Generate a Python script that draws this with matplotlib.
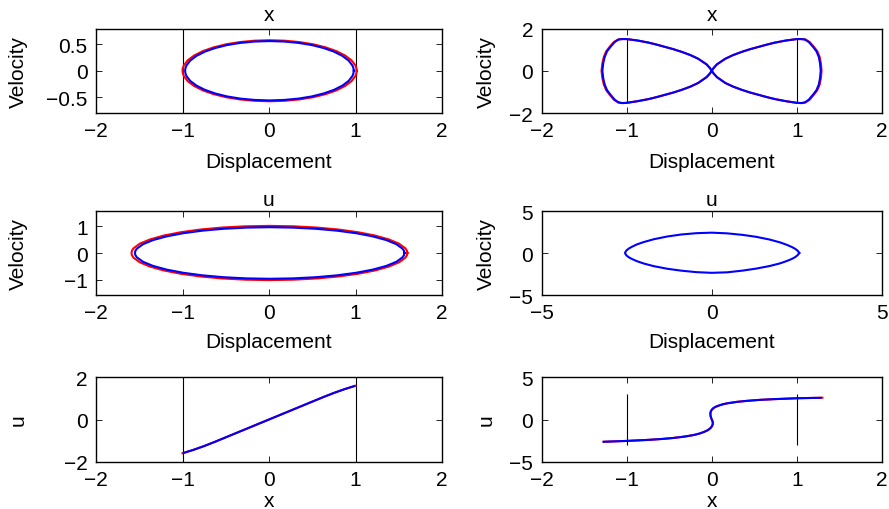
import matplotlib
matplotlib.use("Agg")
import matplotlib.pyplot as plt

plt.rcParams['font.family'] = ['Liberation Sans', 'DejaVu Sans']
plt.rcParams['font.size'] = 15

## Data ##

# panel (1,1): phase plane of x, red and blue closed orbits
x1_red_disp = [1.014, 1.010, 0.999, 0.953, 0.879, 0.778, 0.654, 0.511, 0.351, 0.182, 0.007,
               -0.168, -0.337, -0.497, -0.640, -0.764, -0.865, -0.939, -0.985, -0.996, -1.000,
               -0.996, -0.985, -0.939, -0.865, -0.764, -0.640, -0.497, -0.337, -0.168, 0.007,
               0.182, 0.351, 0.511, 0.654, 0.778, 0.879, 0.953, 0.999, 1.010, 1.014]
x1_red_vel = [0.0, 0.050, 0.100, 0.198, 0.289, 0.372, 0.443, 0.501, 0.543, 0.569, 0.578,
              0.569, 0.543, 0.501, 0.443, 0.372, 0.289, 0.198, 0.100, 0.050, 0.0,
              -0.050, -0.100, -0.198, -0.289, -0.372, -0.443, -0.501, -0.543, -0.569, -0.578,
              -0.569, -0.543, -0.501, -0.443, -0.372, -0.289, -0.198, -0.100, -0.050, 0.0]
x1_blue_disp = [0.980, 0.976, 0.965, 0.921, 0.849, 0.752, 0.632, 0.493, 0.338, 0.174, 0.005,
                -0.164, -0.328, -0.483, -0.622, -0.742, -0.839, -0.911, -0.955, -0.966, -0.970,
                -0.966, -0.955, -0.911, -0.839, -0.742, -0.622, -0.483, -0.328, -0.164, 0.005,
                0.174, 0.338, 0.493, 0.632, 0.752, 0.849, 0.921, 0.965, 0.976, 0.980]
x1_blue_vel = [0.0, 0.049, 0.098, 0.192, 0.281, 0.361, 0.430, 0.487, 0.528, 0.553, 0.562,
               0.553, 0.528, 0.487, 0.430, 0.361, 0.281, 0.192, 0.098, 0.049, 0.0,
               -0.049, -0.098, -0.192, -0.281, -0.361, -0.430, -0.487, -0.528, -0.553, -0.562,
               -0.553, -0.528, -0.487, -0.430, -0.361, -0.281, -0.192, -0.098, -0.049, 0.0]

# panel (1,2): figure-eight orbit of x
x2_blue_disp = [0.0, 0.02, 0.06, 0.16, 0.25, 0.35, 0.45, 0.55, 0.65, 0.74, 0.87, 1.0, 1.05, 1.094, 1.14, 1.19, 1.23, 1.258, 1.272, 1.28,
                1.272, 1.258, 1.23, 1.19, 1.14, 1.094, 1.05, 1.0, 0.87, 0.74, 0.65, 0.55, 0.45, 0.35, 0.25, 0.16, 0.06, 0.02, 0.0,
                -0.02, -0.06, -0.16, -0.25, -0.35, -0.45, -0.55, -0.65, -0.74, -0.87, -1.0, -1.05, -1.094, -1.14, -1.19, -1.23, -1.258, -1.275, -1.285,
                -1.275, -1.258, -1.23, -1.19, -1.14, -1.094, -1.05, -1.0, -0.87, -0.74, -0.65, -0.55, -0.45, -0.35, -0.25, -0.16, -0.06, -0.02, 0.0]
x2_blue_vel = [0.0, 0.12, 0.30, 0.57, 0.74, 0.89, 1.02, 1.13, 1.24, 1.33, 1.43, 1.50, 1.50, 1.48, 1.36, 1.13, 0.92, 0.65, 0.35, 0.0,
               -0.35, -0.65, -0.92, -1.13, -1.37, -1.50, -1.53, -1.52, -1.44, -1.34, -1.25, -1.14, -1.03, -0.90, -0.75, -0.58, -0.30, -0.12, 0.0,
               0.12, 0.30, 0.57, 0.74, 0.89, 1.02, 1.13, 1.24, 1.33, 1.43, 1.50, 1.50, 1.48, 1.36, 1.13, 0.92, 0.65, 0.35, 0.0,
               -0.35, -0.65, -0.92, -1.13, -1.37, -1.50, -1.53, -1.52, -1.44, -1.34, -1.25, -1.14, -1.03, -0.90, -0.75, -0.58, -0.30, -0.12, 0.0]
x2_red_disp = [0.0, 0.02, 0.06, 0.16, 0.25, 0.35, 0.45, 0.55, 0.65, 0.74, 0.87, 1.0, 1.055, 1.10, 1.15, 1.20, 1.24, 1.268, 1.282, 1.29,
               1.282, 1.268, 1.24, 1.20, 1.15, 1.10, 1.055, 1.0, 0.87, 0.74, 0.65, 0.55, 0.45, 0.35, 0.25, 0.16, 0.06, 0.02, 0.0,
               -0.02, -0.06, -0.16, -0.25, -0.35, -0.45, -0.55, -0.65, -0.74, -0.87, -1.0, -1.055, -1.10, -1.15, -1.20, -1.24, -1.268, -1.285, -1.295,
               -1.285, -1.268, -1.24, -1.20, -1.15, -1.10, -1.055, -1.0, -0.87, -0.74, -0.65, -0.55, -0.45, -0.35, -0.25, -0.16, -0.06, -0.02, 0.0]
x2_red_vel = x2_blue_vel

# panel (2,1): phase plane of u
u1_red_disp = [1.600, 1.594, 1.576, 1.504, 1.386, 1.227, 1.030, 0.803, 0.550, 0.282, 0.005,
               -0.272, -0.540, -0.793, -1.020, -1.217, -1.376, -1.494, -1.566, -1.584, -1.590,
               -1.584, -1.566, -1.494, -1.376, -1.217, -1.020, -0.793, -0.540, -0.272, 0.005,
               0.282, 0.550, 0.803, 1.030, 1.227, 1.386, 1.504, 1.576, 1.594, 1.600]
u1_red_vel = [0.0, 0.089, 0.177, 0.349, 0.510, 0.656, 0.781, 0.883, 0.958, 1.004, 1.020,
              1.004, 0.958, 0.883, 0.781, 0.656, 0.510, 0.349, 0.177, 0.089, 0.0,
              -0.089, -0.177, -0.349, -0.510, -0.656, -0.781, -0.883, -0.958, -1.004, -1.020,
              -1.004, -0.958, -0.883, -0.781, -0.656, -0.510, -0.349, -0.177, -0.089, 0.0]
u1_blue_disp = [1.566, 1.560, 1.542, 1.472, 1.357, 1.201, 1.009, 0.787, 0.541, 0.278, 0.008,
                -0.262, -0.525, -0.771, -0.993, -1.185, -1.341, -1.456, -1.526, -1.544, -1.550,
                -1.544, -1.526, -1.456, -1.341, -1.185, -0.993, -0.771, -0.525, -0.262, 0.008,
                0.278, 0.541, 0.787, 1.009, 1.201, 1.357, 1.472, 1.542, 1.560, 1.566]
u1_blue_vel = [0.0, 0.085, 0.168, 0.332, 0.485, 0.624, 0.743, 0.840, 0.911, 0.955, 0.970,
               0.955, 0.911, 0.840, 0.743, 0.624, 0.485, 0.332, 0.168, 0.085, 0.0,
               -0.085, -0.168, -0.332, -0.485, -0.624, -0.743, -0.840, -0.911, -0.955, -0.970,
               -0.955, -0.911, -0.840, -0.743, -0.624, -0.485, -0.332, -0.168, -0.085, 0.0]

# panel (2,2): lens-shaped orbit of u
u2_disp = [2.57, 2.52, 2.45, 2.35, 2.2, 2.0, 1.7, 1.3, 0.9, 0.45, 0.0,
           -0.45, -0.9, -1.3, -1.7, -2.0, -2.2, -2.34, -2.44, -2.51, -2.55,
           -2.51, -2.44, -2.34, -2.2, -2.0, -1.7, -1.3, -0.9, -0.45, 0.0,
           0.45, 0.9, 1.3, 1.7, 2.0, 2.2, 2.35, 2.45, 2.52, 2.57]
u2_vel = [0.0, 0.28, 0.5, 0.72, 0.98, 1.27, 1.6, 1.93, 2.16, 2.34, 2.42,
          2.36, 2.2, 1.97, 1.64, 1.3, 1.02, 0.75, 0.52, 0.28, 0.0,
          -0.27, -0.5, -0.72, -0.97, -1.25, -1.57, -1.88, -2.1, -2.28, -2.36,
          -2.3, -2.1, -1.86, -1.55, -1.24, -0.96, -0.71, -0.49, -0.27, 0.0]

# panel (3,1): u against x
ux1_red_x = [-1.0, -0.875, -0.75, -0.625, -0.5, -0.375, -0.25, -0.125, 0.0, 0.125, 0.25, 0.375, 0.5, 0.625, 0.75, 0.875, 1.0]
ux1_red_u = [-1.59, -1.43, -1.25, -1.05, -0.84, -0.63, -0.42, -0.21, 0.0, 0.21, 0.42, 0.63, 0.84, 1.05, 1.25, 1.43, 1.59]
ux1_blue_x = [-0.985, -0.875, -0.75, -0.625, -0.5, -0.375, -0.25, -0.125, 0.0, 0.125, 0.25, 0.375, 0.5, 0.625, 0.75, 0.875, 0.985]
ux1_blue_u = [-1.57, -1.43, -1.25, -1.05, -0.84, -0.63, -0.42, -0.21, 0.0, 0.21, 0.42, 0.63, 0.84, 1.05, 1.25, 1.43, 1.57]

# panel (3,2): u against x, S-shaped
ux2_blue_x = [-1.27, -1.0, -0.75, -0.57, -0.45, -0.35, -0.27, -0.2, -0.14, -0.09, -0.055, -0.03, -0.01, 0.004, 0.012, 0.012,
              0.005, -0.006, -0.014, -0.016, -0.012, -0.002, 0.015, 0.04, 0.08, 0.13, 0.18, 0.3, 0.41, 0.55, 0.72, 0.9, 1.0, 1.15, 1.28]
ux2_blue_u = [-2.62, -2.52, -2.4, -2.28, -2.17, -2.05, -1.93, -1.8, -1.64, -1.46, -1.3, -1.14, -0.96, -0.76, -0.55, -0.32,
              -0.1, 0.15, 0.42, 0.7, 0.93, 1.12, 1.3, 1.47, 1.63, 1.79, 1.9, 2.08, 2.19, 2.3, 2.39, 2.46, 2.5, 2.53, 2.55]
ux2_red_x = ux2_blue_x[:-1] + [1.30]
ux2_red_u = ux2_blue_u[:-1] + [2.56]

# black vertical bounds at x = -1 and x = 1
bound_x = [-1, 1]
bound_lo = [-0.8, -1.5, None, None, -2.0, -3.05]
bound_hi = [0.8, 1.5, None, None, 2.0, 3.05]

titles = ['x', 'x', 'u', 'u', '', '']
xlabels = ['Displacement', 'Displacement', 'Displacement', 'Displacement', 'x', 'x']
ylabels = ['Velocity', 'Velocity', 'Velocity', 'Velocity', 'u', 'u']
xlims = [(-2, 2), (-2, 2), (-2, 2), (-5, 5), (-2, 2), (-2, 2)]
ylims = [(-0.8, 0.8), (-2, 2), (-1.58, 1.58), (-5, 5), (-2, 2), (-5, 5)]
xticks = [[-2, -1, 0, 1, 2], [-2, -1, 0, 1, 2], [-2, -1, 0, 1, 2], [-5, 0, 5], [-2, -1, 0, 1, 2], [-2, -1, 0, 1, 2]]
yticks = [[-0.5, 0, 0.5], [-2, 0, 2], [-1, 0, 1], [-5, 0, 5], [-2, 0, 2], [-5, 0, 5]]

red_curves = [(x1_red_disp, x1_red_vel), (x2_red_disp, x2_red_vel), (u1_red_disp, u1_red_vel),
              None, (ux1_red_x, ux1_red_u), (ux2_red_x, ux2_red_u)]
blue_curves = [(x1_blue_disp, x1_blue_vel), (x2_blue_disp, x2_blue_vel), (u1_blue_disp, u1_blue_vel),
               (u2_disp, u2_vel), (ux1_blue_x, ux1_blue_u), (ux2_blue_x, ux2_blue_u)]

W, H = 889, 510
col_left = [96, 541.5]
col_width = [346, 340.5]
row_top = [29.5, 212, 378]
row_height = [84.5, 84, 85]
row_labelpad = [8.5, 7, 1.5]
row_titlepad = [6, 4, 4]
ylabel_x = [-0.197, -0.134]

fig = plt.figure(figsize=(W / 100, H / 100), dpi=100)

def fmt(v):
    return ('%g' % v).replace('-', '\u2212')

for k in range(6):
    r, c = divmod(k, 2)
    ax = fig.add_axes([col_left[c] / W, 1 - (row_top[r] + row_height[r]) / H,
                       col_width[c] / W, row_height[r] / H])
    if bound_lo[k] is not None:
        ax.vlines(bound_x, bound_lo[k], bound_hi[k], colors='black', linewidth=0.8)
    if red_curves[k] is not None:
        ax.plot(red_curves[k][0], red_curves[k][1], color='red', linewidth=1.5)
    ax.plot(blue_curves[k][0], blue_curves[k][1], color='blue', linewidth=1.5)

    ax.set_xlim(*xlims[k])
    ax.set_ylim(*ylims[k])
    ax.set_xticks(xticks[k])
    ax.set_yticks(yticks[k])
    ax.set_xticklabels([fmt(v) for v in xticks[k]])
    ax.set_yticklabels([fmt(v) for v in yticks[k]])
    ax.tick_params(direction='in', top=True, right=True, length=4, width=0.6, pad=6, labelsize=15)
    for sp in ax.spines.values():
        sp.set_linewidth(1.0)
    if titles[k]:
        ax.set_title(titles[k], fontsize=15, pad=row_titlepad[r])
    ax.set_xlabel(xlabels[k], fontsize=15, labelpad=row_labelpad[r])
    ax.set_ylabel(ylabels[k], fontsize=15)
    ax.yaxis.set_label_coords(ylabel_x[c], 0.5)

fig.savefig('out.png', dpi=100)
